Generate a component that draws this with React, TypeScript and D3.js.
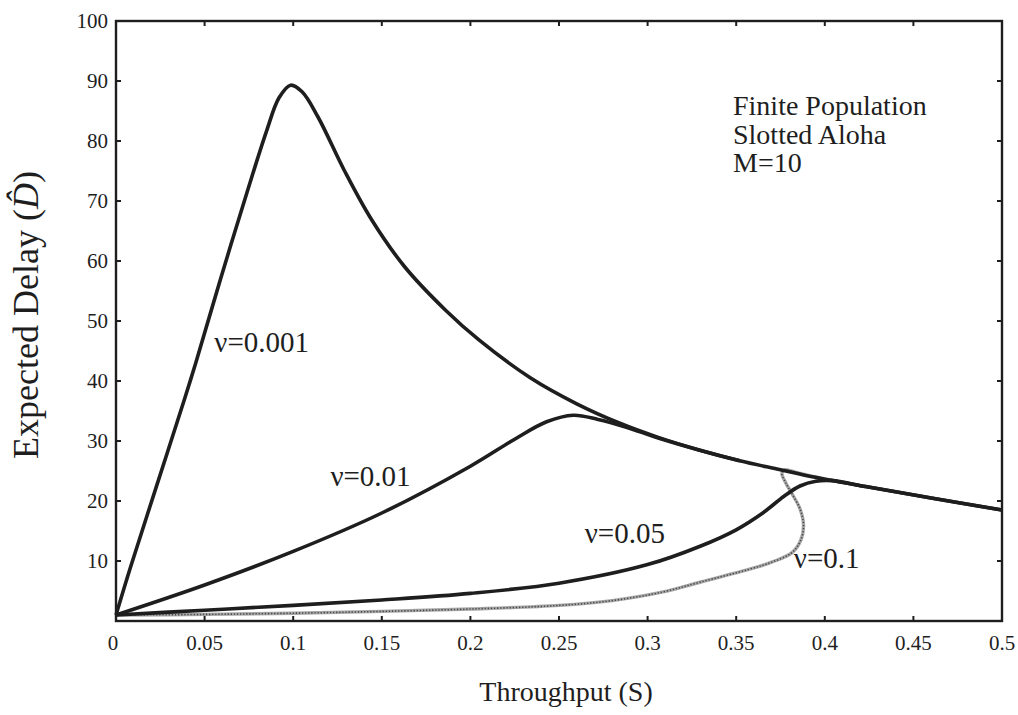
import React from "react";
import * as d3 from "d3";

// ---- data ----
const xTicks = [0, 0.05, 0.1, 0.15, 0.2, 0.25, 0.3, 0.35, 0.4, 0.45, 0.5];
const xTickLabels = ["0", "0.05", "0.1", "0.15", "0.2", "0.25", "0.3", "0.35", "0.4", "0.45", "0.5"];
const yTicks = [10, 20, 30, 40, 50, 60, 70, 80, 90, 100];
const yTickLabels = ["10", "20", "30", "40", "50", "60", "70", "80", "90", "100"];

// nu = 0.001 (also forms the common envelope to S = 0.5)
const nu0001: [number, number][] = [
  [0, 1], [0.008, 8.8], [0.023, 22.6], [0.039, 37.3], [0.045, 43], [0.059, 57],
  [0.074, 71.5], [0.085, 81.7], [0.092, 87.2], [0.0985, 89.3], [0.105, 88.2],
  [0.114, 84], [0.129, 75], [0.144, 67], [0.163, 59], [0.186, 51.8], [0.205, 46.8],
  [0.234, 40.5], [0.26, 36.2], [0.284, 33], [0.306, 30.6], [0.329, 28.5],
  [0.352, 26.7], [0.375, 25.2], [0.39, 24.2], [0.423, 22.4], [0.46, 20.5], [0.5, 18.5],
];
// nu = 0.01
const nu001: [number, number][] = [
  [0, 1], [0.05, 6], [0.1, 11.6], [0.15, 18], [0.2, 25.8], [0.225, 30.3],
  [0.243, 33.2], [0.258, 34.3], [0.272, 33.6], [0.288, 32.3], [0.306, 30.5],
  [0.329, 28.5], [0.352, 26.7],
];
// nu = 0.05
const nu005: [number, number][] = [
  [0, 1], [0.05, 1.8], [0.1, 2.6], [0.15, 3.5], [0.2, 4.6], [0.25, 6.3],
  [0.3, 9.4], [0.33, 12.5], [0.35, 15.2], [0.365, 18], [0.377, 20.8],
  [0.386, 22.5], [0.395, 23.3], [0.404, 23.4], [0.423, 22.4], [0.46, 20.5], [0.5, 18.5],
];
// nu = 0.1 (folds back on itself near S = 0.38)
const nu01: [number, number][] = [
  [0, 1], [0.05, 1.1], [0.1, 1.3], [0.15, 1.6], [0.2, 2.0], [0.25, 2.6],
  [0.28, 3.4], [0.308, 4.8], [0.33, 6.5], [0.357, 8.6], [0.37, 9.8],
  [0.3815, 11.4], [0.3865, 13.5], [0.388, 16], [0.386, 18.7], [0.3815, 21.2],
  [0.378, 23], [0.3758, 24.6], [0.3772, 25.2], [0.385, 24.7], [0.395, 24.0],
  [0.41, 23.1], [0.423, 22.4],
];

const curveLabels = [
  { text: "ν=0.001", s: 0.0555, d: 44.8 },
  { text: "ν=0.01", s: 0.121, d: 22.5 },
  { text: "ν=0.05", s: 0.2645, d: 13 },
  { text: "ν=0.1", s: 0.3825, d: 8.8 },
];
const noteLines = ["Finite Population", "Slotted Aloha", "M=10"];

const W = 1018;
const H = 715;
const FONT = "'Liberation Serif', 'Times New Roman', Times, serif";

export default function App() {
  const x = d3.scaleLinear().domain([0, 0.5]).range([116, 1002]);
  const y = d3.scaleLinear().domain([0, 100]).range([621, 21]);
  const line = d3
    .line<[number, number]>()
    .x((d) => x(d[0]))
    .y((d) => y(d[1]))
    .curve(d3.curveCatmullRom.alpha(0.5));

  const ink = "#1e1e1e";
  const x0 = x(0), x1 = x(0.5), y0 = y(0), y1 = y(100);
  const tl = 5;
  const ts = { fontFamily: FONT };

  return (
    <svg
      width={W}
      height={H}
      style={{ position: "absolute", left: 0, top: 0, display: "block", background: "#fff" }}
    >
      <rect x={0} y={0} width={W} height={H} fill="#fff" />

      {/* curves */}
      <path d={line(nu01) || ""} fill="none" stroke="#a8a8a8" strokeWidth={3.4} />
      <path d={line(nu01) || ""} fill="none" stroke="#4a4a4a" strokeWidth={1.6} strokeDasharray="1.3 1.8" />
      <path d={line(nu005) || ""} fill="none" stroke={ink} strokeWidth={3.6} strokeLinejoin="round" />
      <path d={line(nu001) || ""} fill="none" stroke={ink} strokeWidth={3.6} strokeLinejoin="round" />
      <path d={line(nu0001) || ""} fill="none" stroke={ink} strokeWidth={3.6} strokeLinejoin="round" />

      {/* frame */}
      <rect x={x0} y={y1} width={x1 - x0} height={y0 - y1} fill="none" stroke={ink} strokeWidth={2.4} />

      {/* x ticks (bottom and top, inward) */}
      {xTicks.map((t, i) => (
        <g key={"xt" + i}>
          <line x1={x(t)} x2={x(t)} y1={y0} y2={y0 - tl} stroke={ink} strokeWidth={2} />
          <line x1={x(t)} x2={x(t)} y1={y1} y2={y1 + tl} stroke={ink} strokeWidth={2} />
          <text x={x(t) - (i === 0 ? 3 : 0)} y={650} textAnchor="middle" fontSize={21} fill={ink} style={ts}>
            {xTickLabels[i]}
          </text>
        </g>
      ))}

      {/* y ticks (left and right, inward) */}
      {yTicks.map((t, i) => (
        <g key={"yt" + i}>
          <line x1={x0} x2={x0 + tl} y1={y(t)} y2={y(t)} stroke={ink} strokeWidth={2} />
          <line x1={x1} x2={x1 - tl} y1={y(t)} y2={y(t)} stroke={ink} strokeWidth={2} />
          <text x={108} y={y(t) + 7} textAnchor="end" fontSize={21} fill={ink} style={ts}>
            {yTickLabels[i]}
          </text>
        </g>
      ))}

      {/* curve labels */}
      {curveLabels.map((c, i) => (
        <text key={"cl" + i} x={x(c.s)} y={y(c.d)} fontSize={29} fill={ink} style={ts}>
          {c.text}
        </text>
      ))}

      {/* annotation */}
      {noteLines.map((s, i) => (
        <text key={"n" + i} x={733} y={115 + i * 28.5} fontSize={28} fill={ink} style={ts}>
          {s}
        </text>
      ))}

      {/* axis titles */}
      <text x={566} y={701} textAnchor="middle" fontSize={28} fill={ink} style={ts}>
        Throughput (S)
      </text>
      <text
        transform="translate(38,315) rotate(-90)"
        textAnchor="middle"
        fontSize={36}
        fill={ink}
        style={ts}
      >
        Expected Delay (<tspan fontStyle="italic">{"D\u0302"}</tspan>)
      </text>
    </svg>
  );
}
